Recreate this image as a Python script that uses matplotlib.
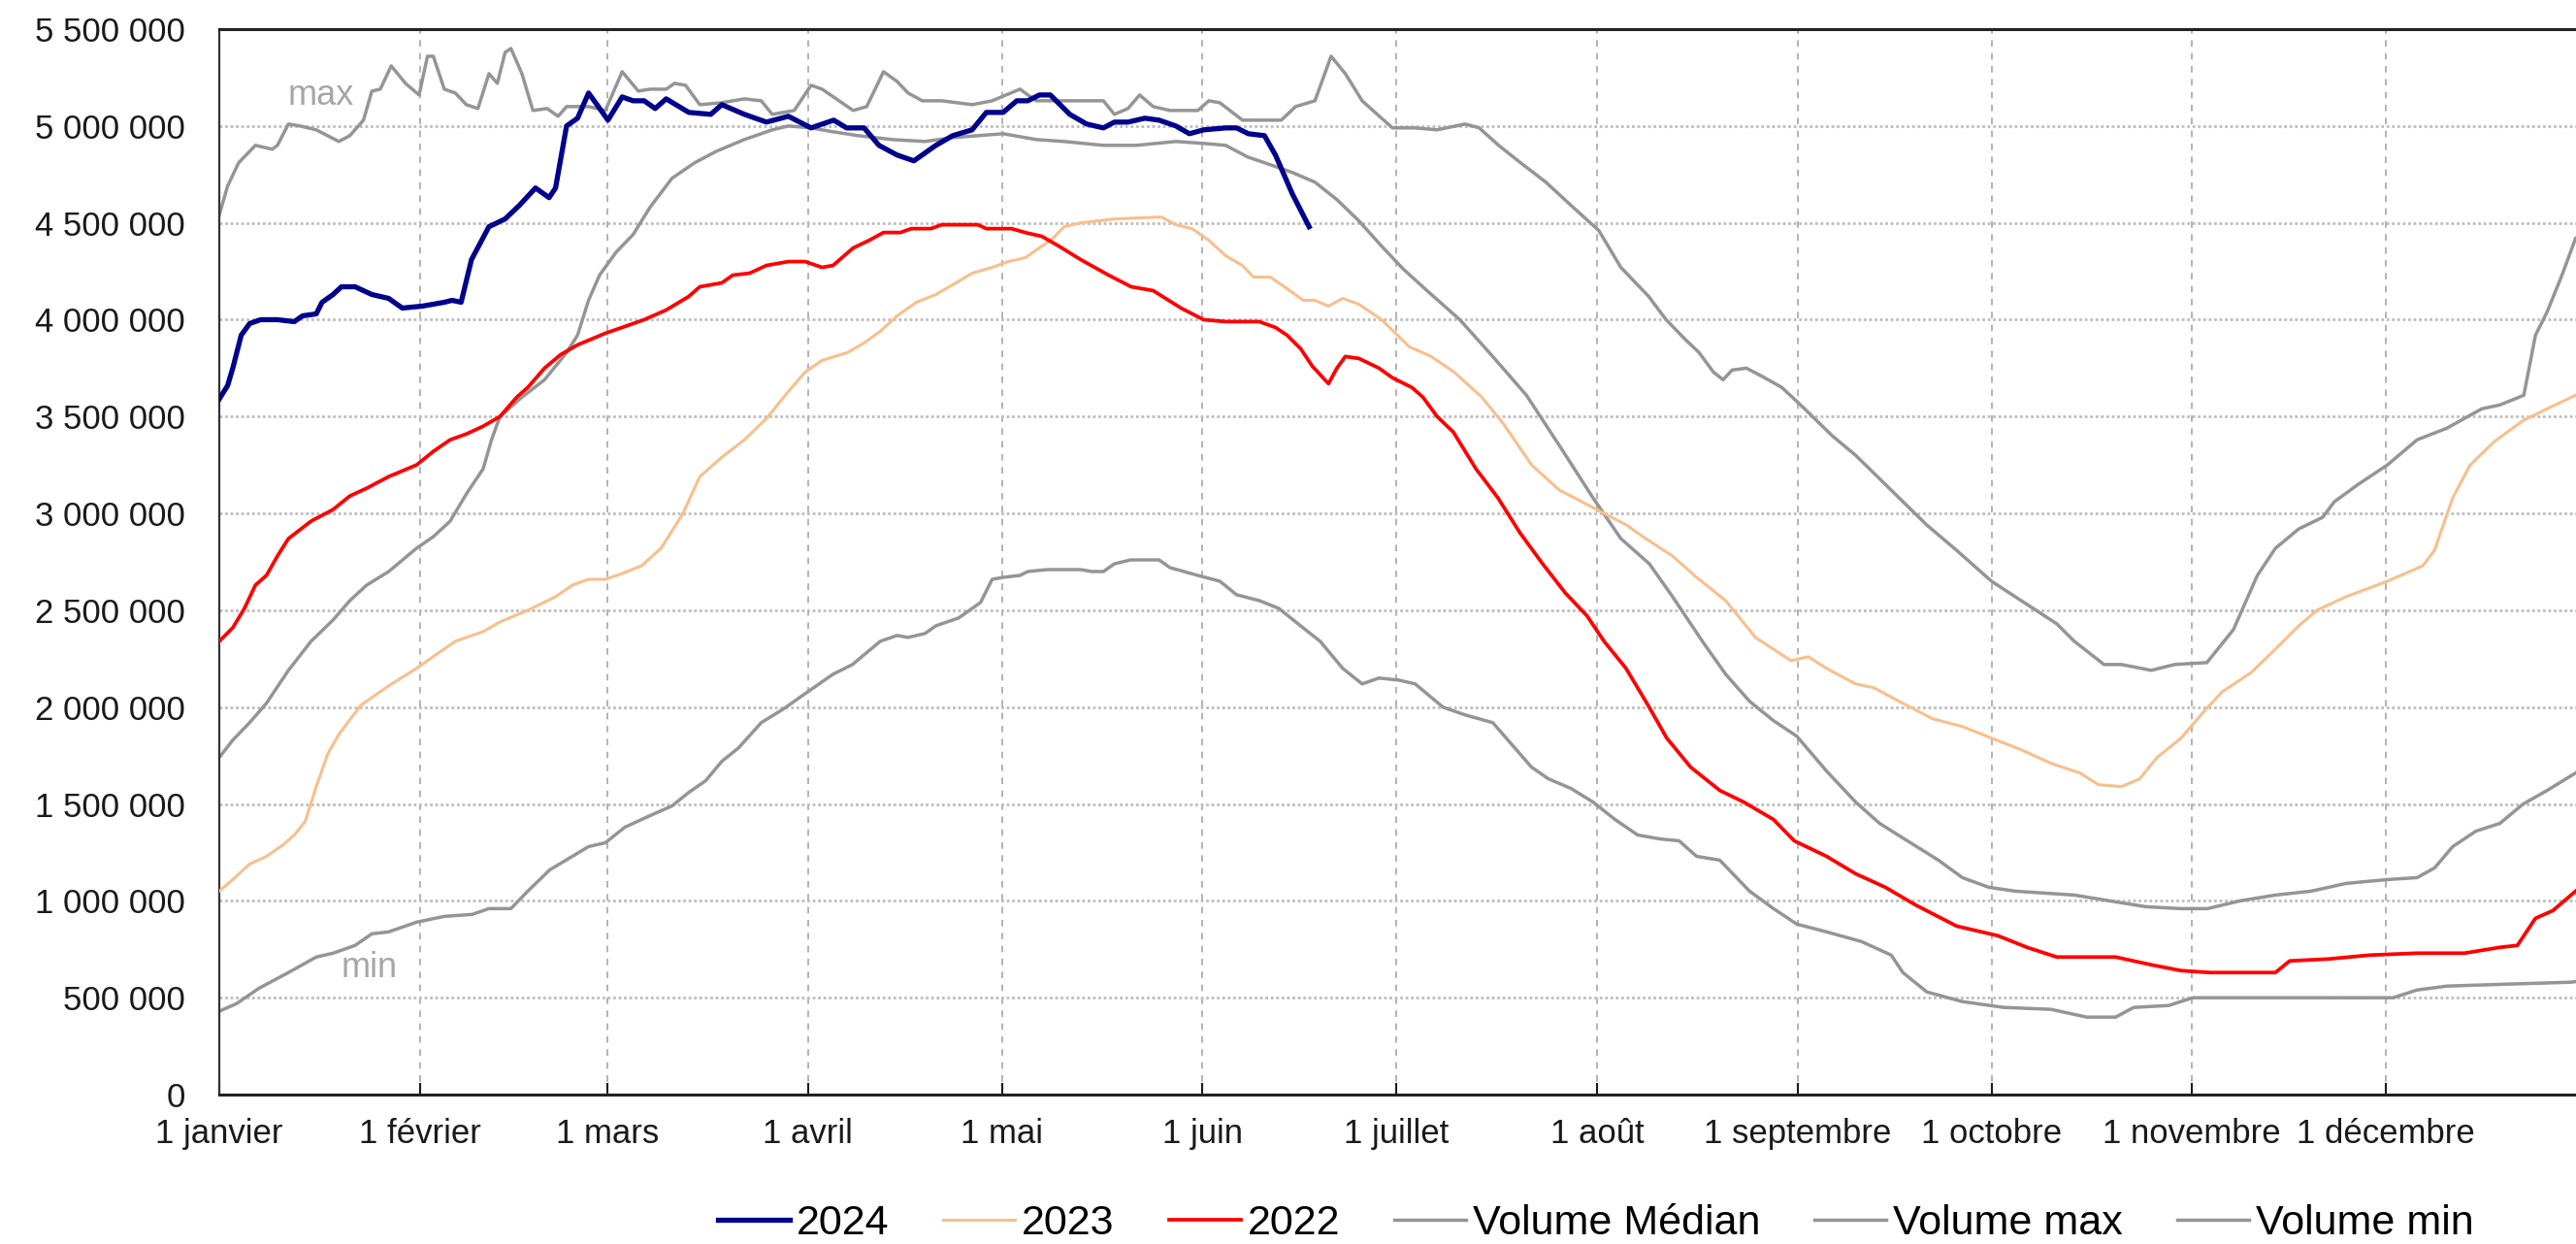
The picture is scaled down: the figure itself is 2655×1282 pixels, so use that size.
import matplotlib
matplotlib.use("Agg")
import matplotlib.pyplot as plt
from matplotlib.ticker import FuncFormatter

plt.rcParams["font.family"] = ["Liberation Sans", "DejaVu Sans"]

# jour de l'année (0 = 1 janvier, année bissextile) et volumes en millions
MONTH_DAYS = [0, 31, 60, 91, 121, 152, 182, 213, 244, 274, 305, 335]
MONTH_LABELS = ["1 janvier", "1 février", "1 mars", "1 avril", "1 mai", "1 juin",
                "1 juillet", "1 août", "1 septembre", "1 octobre", "1 novembre",
                "1 décembre"]

DAYS_2024 = [0, 1.3, 2.1, 3.4, 4.7, 6.4, 9, 11.6, 12.9, 15, 15.9, 17.6, 18.9, 21, 23.6, 26.2,
             28.3, 31.4, 34.8, 36, 37.4, 39, 41.7, 44.2, 46.4, 48.9, 51, 52, 53.7, 55.4, 57.1,
             58.4, 60.1, 62.3, 64, 65.7, 67.4, 69.1, 72.6, 76, 77.7, 81.2, 84.6, 88, 91.5, 95,
             97, 99.7, 102, 104.8, 107.4, 110.8, 113.4, 116.4, 118.6, 121.2, 123.3, 125, 126.8,
             128.5, 131.5, 134.1, 136.7, 138.4, 140.5, 143.1, 145.3, 147.9, 150, 152.2, 155.6,
             157.3, 159.1, 161.6, 163.3, 165.9, 168.5]
VOL_2024 = [3.59, 3.66, 3.75, 3.92, 3.98, 4.00, 4.00, 3.99, 4.02, 4.03, 4.09, 4.13, 4.17, 4.17,
            4.13, 4.11, 4.06, 4.07, 4.09, 4.10, 4.09, 4.31, 4.48, 4.52, 4.59, 4.68, 4.63, 4.68,
            5.00, 5.04, 5.17, 5.11, 5.03, 5.15, 5.13, 5.13, 5.09, 5.14, 5.07, 5.06, 5.11, 5.06,
            5.02, 5.05, 4.99, 5.03, 4.99, 4.99, 4.90, 4.85, 4.82, 4.90, 4.95, 4.98, 5.07, 5.07,
            5.13, 5.13, 5.16, 5.16, 5.06, 5.01, 4.99, 5.02, 5.02, 5.04, 5.03, 5.00, 4.96, 4.98,
            4.99, 4.99, 4.96, 4.95, 4.85, 4.65, 4.48]

DAYS_2023 = [0, 2.1, 4.7, 7.3, 9.9, 11.6, 13.3, 15, 16.8, 18.5, 21.9, 26.2, 30.5, 33.9, 36.5,
             40.8, 43.4, 47.7, 52, 54.6, 57.1, 59.7, 62.3, 65.3, 68.3, 71.7, 74.3, 77.7, 81.2,
             84.6, 88, 90.6, 93.2, 97.1, 99.7, 102.2, 104.8, 107.8, 110.8, 113.9, 116.4, 119.5,
             122, 124.6, 127.2, 128.9, 130.6, 133.2, 138.4, 145.7, 147.9, 150.4, 153, 155.6,
             158.2, 159.9, 162.5, 165.1, 167.6, 169.4, 171.5, 173.7, 176.2, 179.7, 184, 187.4,
             190.9, 195.2, 198.6, 202.9, 207.2, 210.7, 214.1, 217.6, 220.1, 224.7, 228.4, 232.9,
             237.5, 243, 245.7, 248.5, 253, 255.8, 260.3, 264.9, 269.5, 274, 278.6, 283.2, 287.7,
             290.5, 294.1, 296.9, 299.6, 303.3, 306.9, 309.7, 314.2, 317.9, 321.5, 324.3, 328.8,
             335.2, 340.7, 342.5, 345.3, 348, 351.7, 356.2, 359.9, 364.3]
VOL_2023 = [1.05, 1.11, 1.19, 1.23, 1.29, 1.34, 1.41, 1.59, 1.76, 1.86, 2.01, 2.11, 2.20, 2.28,
            2.34, 2.39, 2.44, 2.50, 2.57, 2.63, 2.66, 2.66, 2.69, 2.73, 2.82, 3.00, 3.19, 3.29,
            3.38, 3.49, 3.63, 3.73, 3.79, 3.83, 3.88, 3.94, 4.02, 4.09, 4.13, 4.19, 4.24, 4.27,
            4.30, 4.32, 4.38, 4.42, 4.48, 4.50, 4.52, 4.53, 4.49, 4.47, 4.41, 4.33, 4.28, 4.22,
            4.22, 4.16, 4.10, 4.10, 4.07, 4.11, 4.08, 4.00, 3.86, 3.81, 3.73, 3.60, 3.46, 3.25,
            3.12, 3.06, 3.00, 2.94, 2.88, 2.78, 2.67, 2.55, 2.36, 2.24, 2.26, 2.20, 2.12, 2.10,
            2.02, 1.94, 1.90, 1.84, 1.78, 1.71, 1.66, 1.60, 1.59, 1.63, 1.74, 1.84, 1.98, 2.08,
            2.18, 2.30, 2.42, 2.50, 2.57, 2.65, 2.73, 2.81, 3.08, 3.25, 3.37, 3.48, 3.54, 3.61]

DAYS_2022 = [0, 2.1, 3.9, 5.6, 7.3, 9, 10.7, 14.2, 17.6, 20.2, 22.8, 26.2, 30.5, 33.1, 35.7,
             38.2, 40.8, 43.4, 46, 47.7, 50.3, 52.8, 55.4, 59.7, 62.3, 65.7, 69.1, 72.6, 74.3,
             77.7, 79.4, 82, 84.6, 88, 90.6, 93.2, 94.9, 98, 100.5, 102.7, 105.3, 107, 110,
             111.7, 117.3, 118.6, 122.5, 124.6, 127.2, 129.8, 133.2, 137.5, 141, 144.4, 148.7,
             152.2, 155.6, 160.8, 163.3, 165.1, 167.2, 169, 171.5, 172.8, 174.1, 176.2, 179.3,
             181.4, 184.4, 186.1, 188.3, 190.8, 194.3, 197.7, 201.1, 204.6, 208.1, 211.5, 214.1,
             217.5, 220.9, 223.8, 227.5, 232, 235.7, 240.3, 243.5, 248.5, 253, 257.6, 262.2,
             268.6, 275, 279.5, 284.1, 287.7, 293.2, 298.7, 303.3, 307.8, 317.9, 320.1, 326.1,
             332.5, 339.8, 347.1, 352.6, 355.3, 358.1, 360.8, 364.3]
VOL_2022 = [2.34, 2.41, 2.51, 2.63, 2.68, 2.78, 2.87, 2.96, 3.02, 3.09, 3.13, 3.19, 3.25, 3.32,
            3.38, 3.41, 3.45, 3.50, 3.60, 3.65, 3.75, 3.82, 3.87, 3.93, 3.96, 4.00, 4.05, 4.12,
            4.17, 4.19, 4.23, 4.24, 4.28, 4.30, 4.30, 4.27, 4.28, 4.37, 4.41, 4.45, 4.45, 4.47,
            4.47, 4.49, 4.49, 4.47, 4.47, 4.45, 4.43, 4.38, 4.31, 4.23, 4.17, 4.15, 4.06, 4.00,
            3.99, 3.99, 3.96, 3.92, 3.85, 3.76, 3.67, 3.75, 3.81, 3.80, 3.75, 3.70, 3.65, 3.60,
            3.50, 3.42, 3.23, 3.08, 2.90, 2.74, 2.59, 2.47, 2.34, 2.20, 2.01, 1.84, 1.69, 1.57,
            1.51, 1.42, 1.31, 1.23, 1.14, 1.07, 0.98, 0.87, 0.82, 0.76, 0.71, 0.71, 0.71, 0.67,
            0.64, 0.63, 0.63, 0.69, 0.70, 0.72, 0.73, 0.73, 0.76, 0.77, 0.91, 0.95, 1.05]

DAYS_MED = [0, 2.1, 4.7, 7.3, 10.7, 14.2, 17.6, 20.2, 22.8, 26.2, 30.5, 33.1, 35.7, 38.2, 40.8,
            42.1, 43.4, 46.8, 50.3, 53.7, 55.4, 57.1, 58.8, 61.4, 64, 66.6, 70, 73.5, 76.9,
            81.2, 85.5, 88, 91.5, 94.9, 98.8, 104, 109.1, 113.4, 121.2, 126.3, 130.6, 136.7,
            141.8, 147.9, 152.2, 155.6, 159, 162.5, 165.9, 169.4, 172.8, 176.2, 179.7, 183.1,
            187.4, 191.8, 196.9, 202.1, 207.2, 212.4, 216.7, 221.1, 224.7, 229.3, 232.9, 236.6,
            240.3, 243.9, 248.5, 253, 256.7, 261, 265.8, 269.5, 273.6, 277.7, 286.8, 292.3,
            297.8, 303.3, 307.4, 312.4, 317.9, 323.4, 328.8, 335.2, 339.8, 342.5, 345.3, 348.9,
            352.6, 356.2, 359.9, 364.3]
VOL_MED = [1.74, 1.83, 1.92, 2.02, 2.19, 2.34, 2.45, 2.55, 2.63, 2.70, 2.82, 2.88, 2.96, 3.10,
           3.23, 3.38, 3.50, 3.60, 3.69, 3.83, 3.92, 4.10, 4.23, 4.35, 4.44, 4.58, 4.73, 4.81,
           4.87, 4.93, 4.98, 5.00, 4.99, 4.97, 4.95, 4.93, 4.92, 4.94, 4.96, 4.93, 4.92, 4.90,
           4.90, 4.92, 4.91, 4.90, 4.84, 4.80, 4.76, 4.71, 4.62, 4.51, 4.38, 4.26, 4.13, 4.00,
           3.81, 3.61, 3.35, 3.08, 2.87, 2.74, 2.57, 2.34, 2.17, 2.03, 1.93, 1.85, 1.67, 1.51,
           1.40, 1.31, 1.21, 1.12, 1.07, 1.05, 1.03, 1.00, 0.97, 0.96, 0.96, 1.00, 1.03, 1.05,
           1.09, 1.11, 1.12, 1.17, 1.28, 1.36, 1.40, 1.50, 1.57, 1.66]

DAYS_MAX = [0, 1.3, 3, 5.6, 8.2, 9, 10.7, 12.5, 15, 18.5, 20.2, 22.3, 23.6, 24.9, 26.6, 28.8,
            30.9, 32.2, 33.1, 34.8, 36.5, 38.2, 40, 41.7, 43, 44.2, 45.1, 46.8, 48.5, 50.7,
            52.4, 53.7, 57.1, 59.7, 62.3, 64.8, 66.6, 69.1, 70.4, 72.1, 74.3, 77.7, 81.2, 83.8,
            85.5, 88.9, 91.5, 93.2, 95.4, 98, 100.1, 102.7, 104.8, 106.5, 108.7, 111.7, 116.4,
            119.5, 123.8, 126.3, 136.7, 138.4, 140.5, 142.3, 144.4, 147, 151.3, 153, 154.7,
            158.2, 164.2, 166.4, 169.4, 171.9, 174.1, 176.7, 179.7, 181.4, 184.9, 188.3, 192.6,
            194.8, 197.8, 201.2, 205.1, 209, 213.3, 216.7, 221, 223.7, 226.6, 228.8, 231, 232.5,
            233.9, 236.1, 238.4, 241.6, 244.8, 249.4, 253, 258.5, 264, 268.6, 274, 278.6, 284.1,
            286.8, 291.4, 294.1, 298.7, 302.3, 307.3, 311.4, 315.1, 317.9, 321.5, 325.2, 327,
            330.7, 335.2, 339.8, 344.4, 349.8, 352.6, 356.3, 358.1, 359.9, 362.2, 364.3]
VOL_MAX = [4.54, 4.69, 4.81, 4.90, 4.88, 4.90, 5.01, 5.00, 4.98, 4.92, 4.95, 5.03, 5.18, 5.19,
           5.31, 5.22, 5.16, 5.36, 5.36, 5.19, 5.17, 5.11, 5.09, 5.27, 5.22, 5.38, 5.40, 5.27,
           5.08, 5.09, 5.05, 5.10, 5.10, 5.08, 5.28, 5.18, 5.19, 5.19, 5.22, 5.21, 5.11, 5.12,
           5.14, 5.13, 5.06, 5.08, 5.21, 5.19, 5.14, 5.08, 5.10, 5.28, 5.23, 5.17, 5.13, 5.13,
           5.11, 5.13, 5.19, 5.13, 5.13, 5.06, 5.09, 5.16, 5.10, 5.08, 5.08, 5.13, 5.12, 5.03,
           5.03, 5.10, 5.13, 5.36, 5.27, 5.13, 5.04, 4.99, 4.99, 4.98, 5.01, 4.99, 4.90, 4.81,
           4.71, 4.59, 4.46, 4.27, 4.12, 4.00, 3.90, 3.83, 3.73, 3.69, 3.74, 3.75, 3.71, 3.65,
           3.55, 3.40, 3.30, 3.12, 2.94, 2.81, 2.65, 2.55, 2.43, 2.34, 2.22, 2.22, 2.19, 2.22,
           2.23, 2.40, 2.68, 2.82, 2.92, 2.98, 3.06, 3.15, 3.25, 3.38, 3.44, 3.54, 3.56, 3.61,
           3.92, 4.04, 4.23, 4.42]

DAYS_MIN = [0, 2.7, 6.2, 10.7, 15, 17.6, 21, 23.6, 26.2, 30.5, 34.8, 39.1, 41.7, 45.1, 47.7,
            51.1, 54.6, 57.1, 59.7, 62.7, 66.6, 70, 72.6, 75.2, 77.7, 80.3, 83.8, 87.2, 90.6,
            94.9, 97.9, 102.2, 104.8, 106.5, 109.1, 110.8, 114.3, 117.7, 119.5, 121.2, 123.8,
            125, 128, 133.2, 134.9, 136.7, 138.4, 140.9, 145.3, 147, 151.3, 154.7, 157.3, 160.8,
            163.8, 166.8, 170.2, 173.7, 176.7, 179.3, 182.3, 184.9, 189.2, 192.6, 196.9, 199.5,
            202.9, 205.5, 209, 212.4, 215.8, 219.3, 222.7, 225.7, 228.4, 232, 236.6, 240.3,
            243.9, 248.5, 253.9, 258.5, 260.3, 264, 269.5, 275.9, 283.2, 288.7, 293.2, 296,
            301.4, 305.1, 312.4, 321.5, 330.7, 336.1, 339.8, 344.4, 353.5, 363.5, 366]
VOL_MIN = [0.43, 0.47, 0.55, 0.63, 0.71, 0.73, 0.77, 0.83, 0.84, 0.89, 0.92, 0.93, 0.96, 0.96,
           1.05, 1.16, 1.23, 1.28, 1.30, 1.38, 1.44, 1.49, 1.56, 1.62, 1.72, 1.79, 1.92, 1.99,
           2.07, 2.17, 2.22, 2.34, 2.37, 2.36, 2.38, 2.42, 2.46, 2.54, 2.66, 2.67, 2.68, 2.70,
           2.71, 2.71, 2.70, 2.70, 2.74, 2.76, 2.76, 2.72, 2.68, 2.65, 2.58, 2.55, 2.51, 2.43,
           2.34, 2.20, 2.12, 2.15, 2.14, 2.12, 2.00, 1.96, 1.92, 1.82, 1.69, 1.63, 1.58, 1.51,
           1.42, 1.34, 1.32, 1.31, 1.23, 1.21, 1.05, 0.96, 0.88, 0.84, 0.79, 0.72, 0.63, 0.53,
           0.48, 0.45, 0.44, 0.40, 0.40, 0.45, 0.46, 0.50, 0.50, 0.50, 0.50, 0.50, 0.54, 0.56,
           0.57, 0.58, 0.59]

GRAY = "#959595"

fig = plt.figure(figsize=(26.55, 12.82), dpi=100)
ax = fig.add_axes([0.0851, 0.1201, 0.919, 0.8565])


def mio(vals):
    return [v * 1e6 for v in vals]


ax.plot(DAYS_MED, mio(VOL_MED), color=GRAY, lw=2.5, zorder=2, label="Volume Médian")
ax.plot(DAYS_MAX, mio(VOL_MAX), color=GRAY, lw=2.5, zorder=2, label="Volume max")
ax.plot(DAYS_MIN, mio(VOL_MIN), color=GRAY, lw=2.5, zorder=2, label="Volume min")
ax.plot(DAYS_2023, mio(VOL_2023), color="#F8BF8C", lw=2.2, zorder=3, label="2023")
ax.plot(DAYS_2022, mio(VOL_2022), color="#FF0000", lw=2.7, zorder=4, label="2022")
ax.plot(DAYS_2024, mio(VOL_2024), color="#00008C", lw=3.8, zorder=5, label="2024")

ax.text(15.7, 5.155e6, "max", color="#A6A6A6", fontsize=26, ha="center", va="center")
ax.text(23.2, 0.656e6, "min", color="#A6A6A6", fontsize=26, ha="center", va="center")

ax.set_xlim(0, 366)
ax.set_ylim(0, 5.5e6)
ax.set_xticks(MONTH_DAYS)
ax.set_xticklabels(MONTH_LABELS)
ax.set_yticks([i * 500000 for i in range(12)])
ax.yaxis.set_major_formatter(FuncFormatter(lambda v, p: f"{v:,.0f}".replace(",", " ")))

ax.tick_params(axis="x", direction="in", length=9, width=1.5, pad=17, labelsize=25,
               colors="#1a1a1a")
ax.tick_params(axis="y", length=0, pad=25, labelsize=25, colors="#1a1a1a")

ax.yaxis.grid(True, linestyle=(0, (1, 1)), color="#BDBDBD", lw=2.0, zorder=0)
ax.xaxis.grid(True, linestyle=(0, (4, 4)), color="#A6A6A6", lw=1.2, zorder=0)
ax.set_axisbelow(True)

for side in ("top", "bottom"):
    ax.spines[side].set_linewidth(2.2)
    ax.spines[side].set_color("#222222")
ax.spines["left"].set_linewidth(1.6)
ax.spines["left"].set_color("#333333")
ax.spines["right"].set_visible(False)

handles, labels = ax.get_legend_handles_labels()
order = ["2024", "2023", "2022", "Volume Médian", "Volume max", "Volume min"]
hmap = dict(zip(labels, handles))
fig.legend([hmap[k] for k in order], order, loc="center", bbox_to_anchor=(0.6195, 0.0164),
           ncol=6, frameon=False, fontsize=31, handlelength=1.72, handletextpad=0.16,
           columnspacing=1.3)

fig.savefig("out.png", dpi=100)
